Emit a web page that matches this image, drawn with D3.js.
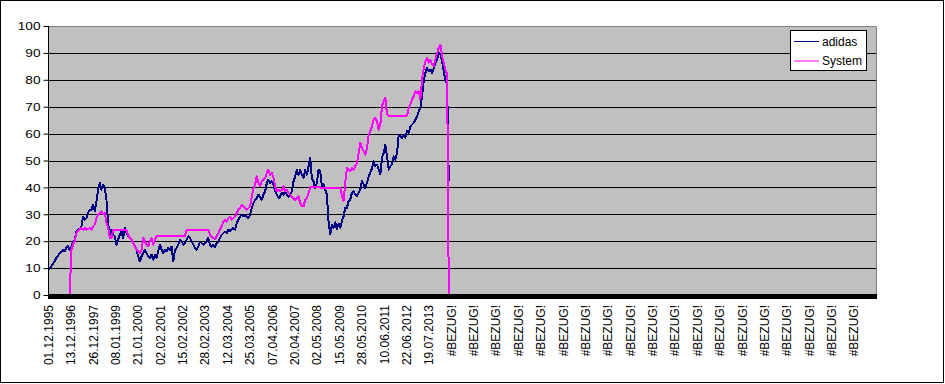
<!DOCTYPE html>
<html><head><meta charset="utf-8">
<script src="https://cdn.jsdelivr.net/npm/d3@7"></script>
<style>
html,body{margin:0;padding:0;background:#fff;}
svg{display:block;font-family:"Liberation Sans",Arial,sans-serif;}
</style>
</head><body>
<svg id="chart" width="945" height="384"></svg>
<script>
// ---------- data ----------
const tickLabels = [
  "01.12.1995","13.12.1996","26.12.1997","08.01.1999","21.01.2000","02.02.2001",
  "15.02.2002","28.02.2003","12.03.2004","25.03.2005","07.04.2006","20.04.2007",
  "02.05.2008","15.05.2009","28.05.2010","10.06.2011","22.06.2012","19.07.2013",
  "#BEZUG!","#BEZUG!","#BEZUG!","#BEZUG!","#BEZUG!","#BEZUG!","#BEZUG!","#BEZUG!",
  "#BEZUG!","#BEZUG!","#BEZUG!","#BEZUG!","#BEZUG!","#BEZUG!","#BEZUG!","#BEZUG!",
  "#BEZUG!","#BEZUG!","#BEZUG!"
];
const yTicks = [0,10,20,30,40,50,60,70,80,90,100];
const seriesNames = ["adidas","System"];
const seriesColors = ["#000080","#FF00FF"];
const ROWS_PER_LABEL = 268;   // rows between category labels
const ROWS_PER_SAMPLE = 20;   // rows between the sampled values below

const adidas = [
  9.4,10,10.7,11.6,12.5,13.8,14.6,15.6,16.2,16.8,16.2,17.5,18.1,16.8,18,19.6,20.6,23.7,24.3,24.5,25.5,
  29.2,28,28.6,30.5,31.7,31.7,33.6,31.1,34.8,39.2,41.6,39.2,41,39.8,35.4,26.8,22.4,24.3,22.4,21.8,
  18.7,20.6,22.4,23.7,21.2,24.9,23,21.8,21.2,20.6,19.3,18.1,16.8,14.4,12.5,14.4,15.6,16.8,15.6,14.4,
  13.8,15,13.1,15,13.8,16.2,18.7,16.8,15.6,16.8,16.2,17.5,16.8,18,12.5,16.8,17.5,18.7,20.6,20,18.7,19.3,
  20.5,21.8,21.2,19.9,18.7,17.4,16.8,18,19.9,19.3,18.7,19.3,19.9,21.2,18.7,18,18.7,17.8,19.3,19.9,21.2,
  22.4,23,23.6,23,24.3,23.6,24.3,24.9,24.3,26.7,28,29.2,29.8,29.2,29.8,29.2,28.6,29.8,32.3,34.2,
  35.4,36,37.3,36.6,35.4,37.3,38.5,41.6,42.8,41.6,42.2,41,38.5,37.3,36,36.6,37.9,37.3,38.5,37.3,
  36.6,37.3,38.5,42.2,44.1,46.6,44.7,46.6,44.7,43.5,46.6,44.7,47.8,50.9,43.5,42.2,39.7,41.6,46.6,45.9,
  40.4,41.1,39.2,37.3,27,22.5,26,25,27,24.5,26.5,25,27.5,29.3,32.4,32.4,34.9,35.5,38,38.6,
  37.3,36.7,38,39.2,42.3,41.1,39.8,41.7,44.2,45.4,47.2,49.7,47.9,48.5,46.6,44.8,51,52.8,55.9,51.6,
  46.6,47.9,48.5,51.6,50.3,52.8,59.6,59,58.4,59.6,58.4,60.9,60.3,62.7,63.4,64,65.2,66.5,68.3,69.6,
  73.9,79.5,82.6,84.4,83.2,83.8,82.6,84.4,86.3,87.5,90,89.4,86.9,83.2,79.5,78.8,42.2
];

const system = [
  0,0,0,0,0,0,0,0,0,0,0,0,0,0,
  16.8,18.7,20,23,23.7,24.3,24.9,24.3,24.9,24.3,24.5,24.9,24.3,25.5,26.1,28.6,29.9,30.5,31.1,29.9,30.5,26.8,24.9,21.2,21.2,
  24.3,24.3,24.3,24.3,24.3,24.3,24.3,24.3,24.3,
  22.4,21.2,20.6,19.3,18.1,16.8,16.2,15.6,16.8,21.2,20,18.7,18.1,20,21.2,18.7,20.6,21.8,22,
  22,22,22,22,22,22,22,22,22,22,22,22,22,22,22,22,
  24.3,24.3,24.3,24.3,24.3,24.3,24.3,24.3,24.3,24.3,24.3,24.3,24.3,24.3,
  22.4,21.8,21.2,20.8,21.8,23,24.3,25.5,27.3,28,27.3,28.6,29.2,28,28.6,29.2,30.4,31.7,32.3,33.5,
  32.9,32.3,31.7,32.3,32.9,36.6,39.7,41,44.1,41.6,40.4,42.2,42.8,43.5,45.3,46.6,44.7,45.3,43.5,40.4,
  38.5,39.1,38.5,39.1,40.4,38.5,39.1,37.9,37.3,36.6,36,35.4,36,36.6,34.2,32.9,32.9,35.4,36,37.9,40,
  40,40,40,40,40,40,
  39.8,39.8,39.8,39.8,39.8,39.8,39.8,39.8,39.8,39.8,39.8,39.8,
  36.7,34.9,42,47.2,46.6,46,47.2,46.6,47.9,49.1,52.8,56.5,54.7,53.4,52.2,54.7,59.6,60.9,62.7,65.2,
  65.8,64.6,61.5,63.4,70.2,72,73.3,67.1,
  66.7,66.7,66.7,66.7,66.7,66.7,66.7,66.7,66.7,66.7,66.7,66.7,
  69.6,70.8,72.7,73.9,75.7,75.1,75.7,72.7,80.2,84.4,86.9,88.1,86.3,87.5,85.7,85,87.5,90,91.9,93.1,
  88.8,86.3,83.8,82,0
];

// ---------- layout ----------
const plot = {left:48, right:876, top:26, bottom:295};
const svg = d3.select("#chart");

const x = d3.scaleLinear()
  .domain([0, tickLabels.length * ROWS_PER_LABEL])
  .range([plot.left, plot.right]);
const y = d3.scaleLinear().domain([0, 100]).range([plot.bottom, plot.top]);

// outer chart border
svg.append("rect").attr("x",0.5).attr("y",0.5).attr("width",943).attr("height",382)
  .attr("fill","#fff").attr("stroke","#000").attr("stroke-width",1);

// plot area
svg.append("rect").attr("x",plot.left).attr("y",plot.top)
  .attr("width",plot.right-plot.left).attr("height",plot.bottom-plot.top)
  .attr("fill","#C0C0C0");

// gridlines
svg.append("g").selectAll("line").data(yTicks.filter(v => v > 0 && v < 100)).join("line")
  .attr("x1",plot.left).attr("x2",plot.right)
  .attr("y1",d => Math.round(y(d)) + 0.5).attr("y2",d => Math.round(y(d)) + 0.5)
  .attr("stroke","#000").attr("stroke-width",1);

// plot border (top / right, gray)
svg.append("path")
  .attr("d",`M${plot.left},${plot.top+0.5}H${plot.right+0.5}V${plot.bottom+4}`)
  .attr("fill","none").attr("stroke","#808080").attr("stroke-width",1);

// series
svg.append("clipPath").attr("id","clip").append("rect")
  .attr("x",plot.left).attr("y",plot.top-2).attr("width",plot.right-plot.left).attr("height",plot.bottom-plot.top+4);

const line = d3.line()
  .x((d,i) => x(i * ROWS_PER_SAMPLE))
  .y(d => y(d));

const gSeries = svg.append("g").attr("clip-path","url(#clip)");
[adidas, system].forEach((s, k) => {
  gSeries.append("path").datum(s)
    .attr("d", line)
    .attr("fill","none")
    .attr("stroke", seriesColors[k])
    .attr("stroke-width", 2)
    .attr("stroke-linejoin","round")
    .attr("shape-rendering","crispEdges");
});

// thick x axis band
svg.append("rect").attr("x",plot.left).attr("y",294).attr("width",plot.right-plot.left+1).attr("height",5)
  .attr("fill","#000");

// y axis
const yAxis = svg.append("g").attr("transform",`translate(${plot.left+0.5},0)`)
  .call(d3.axisLeft(y).tickValues(yTicks).tickSize(5).tickPadding(3).tickSizeOuter(0));
yAxis.select(".domain").attr("stroke","#000").attr("d",`M0,${plot.top}V${plot.bottom+4}`);
yAxis.selectAll(".tick line").attr("stroke","#000");
yAxis.selectAll(".tick text")
  .attr("fill","#000").attr("font-size",10.5)
  .attr("font-family","'Liberation Sans',Arial,sans-serif")
  .attr("x",0).attr("dy","0.36em")
  .attr("transform","translate(-8,0) scale(1.3,1)");

// x axis labels
const xAxis = svg.append("g").attr("transform",`translate(0,299)`)
  .call(d3.axisBottom(x)
    .tickValues(tickLabels.map((d,i) => i * ROWS_PER_LABEL))
    .tickFormat((d,i) => tickLabels[i])
    .tickSize(0));
xAxis.select(".domain").remove();
xAxis.selectAll(".tick text")
  .attr("fill","#000").attr("font-size",12)
  .attr("font-family","'Liberation Sans',Arial,sans-serif")
  .attr("text-anchor","end")
  .attr("transform","rotate(-90)")
  .attr("x",-6).attr("y",0).attr("dy","0.36em");

// legend
const lg = svg.append("g");
lg.append("rect").attr("x",790.5).attr("y",30.5).attr("width",76).attr("height",40)
  .attr("fill","#fff").attr("stroke","#000").attr("stroke-width",1);
seriesNames.forEach((name,k) => {
  const yy = 41.5 + k*19.5;
  lg.append("line").attr("x1",794).attr("x2",819).attr("y1",yy).attr("y2",yy)
    .attr("stroke",seriesColors[k]).attr("stroke-width",1);
  lg.append("text").attr("x",822).attr("y",yy+4.2).attr("font-size",12)
    .attr("fill","#000").text(name);
});
</script>
</body></html>
